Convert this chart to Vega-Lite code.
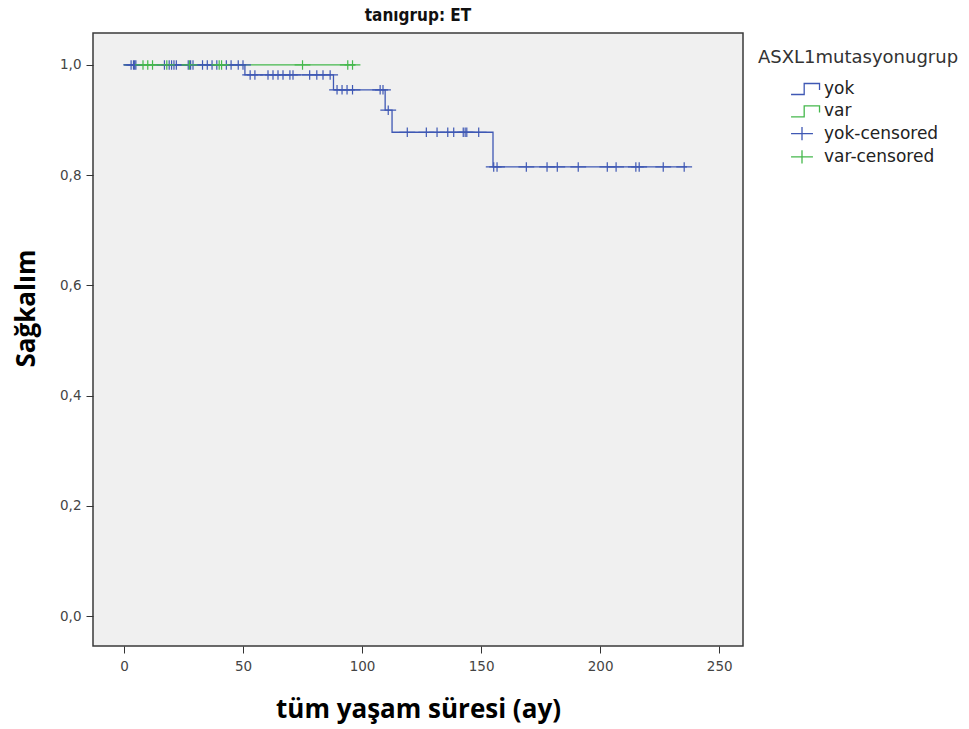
{
  "$schema": "https://vega.github.io/schema/vega-lite/v6.json",
  "width": 650,
  "height": 613,
  "autosize": {"type": "none"},
  "padding": {"left": 93, "top": 33, "right": 226, "bottom": 83},
  "background": "white",
  "config": {
    "view": {"fill": "#f0f0f0", "stroke": "#3a3a3a", "strokeWidth": 1.5},
    "font": "DejaVu Sans"
  },
  "title": {
    "text": "tanıgrup: ET",
    "font": "DejaVu Sans Condensed, DejaVu Sans",
    "fontSize": 17,
    "fontWeight": "bold",
    "color": "#111",
    "anchor": "middle",
    "offset": 8
  },
  "datasets": {
    "curve": [
      {"grp": "yok", "t": 0, "s": 1.0},
      {"grp": "yok", "t": 50.8, "s": 0.982},
      {"grp": "yok", "t": 88, "s": 0.955},
      {"grp": "yok", "t": 109.7, "s": 0.918},
      {"grp": "yok", "t": 112.6, "s": 0.878},
      {"grp": "yok", "t": 155, "s": 0.815},
      {"grp": "yok", "t": 236.5, "s": 0.815},
      {"grp": "var", "t": 0, "s": 1.0},
      {"grp": "var", "t": 97, "s": 1.0}
    ],
    "cens": [
      {"grp": "yok-censored", "t": 3, "s": 1.0},
      {"grp": "yok-censored", "t": 4, "s": 1.0},
      {"grp": "yok-censored", "t": 4.5, "s": 1.0},
      {"grp": "yok-censored", "t": 5, "s": 1.0},
      {"grp": "yok-censored", "t": 17, "s": 1.0},
      {"grp": "yok-censored", "t": 19, "s": 1.0},
      {"grp": "yok-censored", "t": 20, "s": 1.0},
      {"grp": "yok-censored", "t": 21, "s": 1.0},
      {"grp": "yok-censored", "t": 22, "s": 1.0},
      {"grp": "yok-censored", "t": 27, "s": 1.0},
      {"grp": "yok-censored", "t": 28, "s": 1.0},
      {"grp": "yok-censored", "t": 29, "s": 1.0},
      {"grp": "yok-censored", "t": 33, "s": 1.0},
      {"grp": "yok-censored", "t": 35, "s": 1.0},
      {"grp": "yok-censored", "t": 37, "s": 1.0},
      {"grp": "yok-censored", "t": 39, "s": 1.0},
      {"grp": "yok-censored", "t": 43, "s": 1.0},
      {"grp": "yok-censored", "t": 45, "s": 1.0},
      {"grp": "yok-censored", "t": 48, "s": 1.0},
      {"grp": "yok-censored", "t": 50, "s": 1.0},
      {"grp": "yok-censored", "t": 53, "s": 0.982},
      {"grp": "yok-censored", "t": 55, "s": 0.982},
      {"grp": "yok-censored", "t": 60.5, "s": 0.982},
      {"grp": "yok-censored", "t": 62.6, "s": 0.982},
      {"grp": "yok-censored", "t": 64.7, "s": 0.982},
      {"grp": "yok-censored", "t": 66.8, "s": 0.982},
      {"grp": "yok-censored", "t": 69.7, "s": 0.982},
      {"grp": "yok-censored", "t": 71, "s": 0.982},
      {"grp": "yok-censored", "t": 78, "s": 0.982},
      {"grp": "yok-censored", "t": 81, "s": 0.982},
      {"grp": "yok-censored", "t": 83.6, "s": 0.982},
      {"grp": "yok-censored", "t": 86.6, "s": 0.982},
      {"grp": "yok-censored", "t": 89.5, "s": 0.955},
      {"grp": "yok-censored", "t": 91.6, "s": 0.955},
      {"grp": "yok-censored", "t": 93.7, "s": 0.955},
      {"grp": "yok-censored", "t": 96, "s": 0.955},
      {"grp": "yok-censored", "t": 107.6, "s": 0.955},
      {"grp": "yok-censored", "t": 108.8, "s": 0.955},
      {"grp": "yok-censored", "t": 111, "s": 0.918},
      {"grp": "yok-censored", "t": 119, "s": 0.878},
      {"grp": "yok-censored", "t": 127, "s": 0.878},
      {"grp": "yok-censored", "t": 131.5, "s": 0.878},
      {"grp": "yok-censored", "t": 136, "s": 0.878},
      {"grp": "yok-censored", "t": 138.5, "s": 0.878},
      {"grp": "yok-censored", "t": 142.5, "s": 0.878},
      {"grp": "yok-censored", "t": 143.3, "s": 0.878},
      {"grp": "yok-censored", "t": 144, "s": 0.878},
      {"grp": "yok-censored", "t": 149, "s": 0.878},
      {"grp": "yok-censored", "t": 155.3, "s": 0.815},
      {"grp": "yok-censored", "t": 156.7, "s": 0.815},
      {"grp": "yok-censored", "t": 169, "s": 0.815},
      {"grp": "yok-censored", "t": 177.7, "s": 0.815},
      {"grp": "yok-censored", "t": 182, "s": 0.815},
      {"grp": "yok-censored", "t": 190.8, "s": 0.815},
      {"grp": "yok-censored", "t": 203, "s": 0.815},
      {"grp": "yok-censored", "t": 206.7, "s": 0.815},
      {"grp": "yok-censored", "t": 215, "s": 0.815},
      {"grp": "yok-censored", "t": 216.4, "s": 0.815},
      {"grp": "yok-censored", "t": 226.5, "s": 0.815},
      {"grp": "yok-censored", "t": 235.3, "s": 0.815},
      {"grp": "var-censored", "t": 8, "s": 1.0},
      {"grp": "var-censored", "t": 10, "s": 1.0},
      {"grp": "var-censored", "t": 12, "s": 1.0},
      {"grp": "var-censored", "t": 18, "s": 1.0},
      {"grp": "var-censored", "t": 27.5, "s": 1.0},
      {"grp": "var-censored", "t": 40, "s": 1.0},
      {"grp": "var-censored", "t": 41, "s": 1.0},
      {"grp": "var-censored", "t": 75, "s": 1.0},
      {"grp": "var-censored", "t": 94, "s": 1.0},
      {"grp": "var-censored", "t": 96, "s": 1.0}
    ]
  },
  "encoding": {
    "x": {
      "field": "t",
      "type": "quantitative",
      "scale": {"domain": [-13, 260], "nice": false, "zero": false},
      "axis": {
        "title": "tüm yaşam süresi (ay)",
        "values": [0, 50, 100, 150, 200, 250],
        "domain": false,
        "grid": false,
        "tickSize": 7,
        "tickColor": "#333",
        "labelFont": "DejaVu Sans",
        "labelFontSize": 13.5,
        "labelColor": "#444",
        "labelPadding": 6,
        "titleFont": "Open Sans",
        "titleFontSize": 26,
        "titleFontWeight": "bold",
        "titleColor": "#000",
        "titlePadding": 24
      }
    },
    "y": {
      "field": "s",
      "type": "quantitative",
      "scale": {"domain": [-0.054, 1.058], "nice": false, "zero": false},
      "axis": {
        "title": "Sağkalım",
        "values": [0, 0.2, 0.4, 0.6, 0.8, 1.0],
        "labelExpr": "replace(format(datum.value, '.1f'), '.', ',')",
        "domain": false,
        "grid": false,
        "tickSize": 7,
        "tickColor": "#333",
        "labelFont": "DejaVu Sans",
        "labelFontSize": 13.5,
        "labelColor": "#444",
        "labelPadding": 5,
        "titleFont": "Open Sans",
        "titleFontSize": 26,
        "titleFontWeight": "bold",
        "titleColor": "#000",
        "titleX": -67,
        "titleY": 275,
        "titleAngle": 270,
        "titleAlign": "center",
        "titleBaseline": "middle"
      }
    }
  },
  "layer": [
    {
      "data": {"name": "curve"},
      "mark": {"type": "line", "interpolate": "step-after", "strokeWidth": 1.3},
      "encoding": {
        "detail": {"field": "grp"},
        "color": {
          "field": "grp",
          "type": "nominal",
          "title": "ASXL1mutasyonugrup",
          "scale": {
            "domain": ["yok", "var", "yok-censored", "var-censored"],
            "range": ["#3f58b4", "#45b84c", "#3f58b4", "#45b84c"]
          },
          "legend": {
            "orient": "none",
            "legendX": 665,
            "legendY": 16,
            "titleFont": "DejaVu Sans",
            "titleFontSize": 18,
            "titleFontWeight": "normal",
            "titleColor": "#333",
            "titleLimit": 400,
            "titlePadding": 10,
            "labelFont": "DejaVu Sans",
            "labelFontSize": 17,
            "labelColor": "#222",
            "labelLimit": 300,
            "labelOffset": 10,
            "symbolSize": 480,
            "symbolStrokeWidth": 1.3,
            "symbolOffset": 32,
            "rowPadding": 1.3
          }
        }
      }
    },
    {
      "data": {"name": "cens"},
      "mark": {"type": "point", "filled": false, "size": 250, "strokeWidth": 1.2, "opacity": 1},
      "encoding": {
        "color": {
          "field": "grp",
          "type": "nominal",
          "title": "ASXL1mutasyonugrup",
          "scale": {
            "domain": ["yok", "var", "yok-censored", "var-censored"],
            "range": ["#3f58b4", "#45b84c", "#3f58b4", "#45b84c"]
          },
          "legend": {
            "orient": "none",
            "legendX": 665,
            "legendY": 16,
            "titleFont": "DejaVu Sans",
            "titleFontSize": 18,
            "titleFontWeight": "normal",
            "titleColor": "#333",
            "titleLimit": 400,
            "titlePadding": 10,
            "labelFont": "DejaVu Sans",
            "labelFontSize": 17,
            "labelColor": "#222",
            "labelLimit": 300,
            "labelOffset": 10,
            "symbolSize": 480,
            "symbolStrokeWidth": 1.3,
            "symbolOffset": 32,
            "rowPadding": 1.3
          }
        },
        "shape": {
          "field": "grp",
          "type": "nominal",
          "title": "ASXL1mutasyonugrup",
          "scale": {
            "domain": ["yok", "var", "yok-censored", "var-censored"],
            "range": [
              "M-1,0.5L0.2,0.5L0.2,-0.5L1.6,-0.5L1.6,0.1",
              "M-1,0.5L0.2,0.5L0.2,-0.5L1.6,-0.5L1.6,0.1",
              "M-1,0L1,0M0,-0.6L0,0.6",
              "M-1,0L1,0M0,-0.6L0,0.6"
            ]
          }
        }
      }
    }
  ]
}
